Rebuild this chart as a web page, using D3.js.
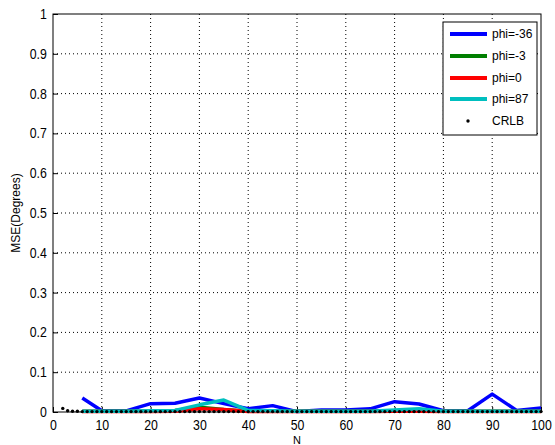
<!DOCTYPE html>
<html><head><meta charset="utf-8">
<script src="https://cdn.jsdelivr.net/npm/d3@7"></script>
<style>body{margin:0;background:#fff}svg{display:block}text{font-family:"Liberation Sans",Arial,sans-serif}</style>
</head><body><svg id="c" width="555" height="445"></svg>
<script>
const seriesN = [6,10,15,20,25,30,35,40,45,50,55,60,65,70,75,80,85,90,95,100];
const phiM36 = [0.035,0.003,0.003,0.021,0.022,0.035,0.021,0.008,0.016,0.001,0.005,0.005,0.008,0.026,0.02,0.003,0.003,0.045,0.004,0.01];
const phiM3  = [0.002,0.002,0.002,0.002,0.004,0.012,0.006,0.002,0.002,0.002,0.002,0.002,0.002,0.003,0.004,0.002,0.002,0.002,0.002,0.002];
const phi0   = [0.001,0.001,0.001,0.001,0.002,0.008,0.006,0.001,0.001,0.001,0.001,0.001,0.001,0.002,0.002,0.001,0.001,0.001,0.001,0.001];
const phi87  = [0.002,0.002,0.002,0.003,0.004,0.018,0.03,0.004,0.003,0.002,0.002,0.002,0.002,0.005,0.008,0.002,0.002,0.002,0.002,0.002];
const crlbN = [2,3,4,5,6,7,8,9,10,11,12,13,14,15,16,17,18,19,20,21,22,23,24,25,26,27,28,29,30,31,32,33,34,35,36,37,38,39,40,41,42,43,44,45,46,47,48,49,50,51,52,53,54,55,56,57,58,59,60,61,62,63,64,65,66,67,68,69,70,71,72,73,74,75,76,77,78,79,80,81,82,83,84,85,86,87,88,89,90,91,92,93,94,95,96,97,98,99,100];
const crlbVal = [0.009,0.003,0.002,0.002,0.001,0.001,0.001,0.001,0.001,0.001,0.001,0.001,0.001,0.001,0.001,0.001,0.001,0.001,0.001,0.001,0.001,0.001,0.001,0.001,0.001,0.001,0.001,0.001,0.001,0.001,0.001,0.001,0.001,0.001,0.001,0.001,0.001,0.001,0.001,0.001,0.001,0.001,0.001,0.001,0.001,0.001,0.001,0.001,0.001,0.001,0.001,0.001,0.001,0.001,0.001,0.001,0.001,0.001,0.001,0.001,0.001,0.001,0.001,0.001,0.001,0.001,0.001,0.001,0.001,0.001,0.001,0.001,0.001,0.001,0.001,0.001,0.001,0.001,0.001,0.001,0.001,0.001,0.001,0.001,0.001,0.001,0.001,0.001,0.001,0.001,0.001,0.001,0.001,0.001,0.001,0.001,0.001,0.001,0.001];
const xTicks = [0,10,20,30,40,50,60,70,80,90,100];
const yTicks = [0,0.1,0.2,0.3,0.4,0.5,0.6,0.7,0.8,0.9,1];
const seriesNames = ["phi=-36","phi=-3","phi=0","phi=87"];
const seriesColors = ["#0000ff","#007f00","#ff0000","#00bfbf"];
const seriesData = [phiM36, phiM3, phi0, phi87];

const L=53, R=541, T=14, B=412;
const svg = d3.select("#c");
const x = d3.scaleLinear().domain([0,100]).range([L,R]);
const y = d3.scaleLinear().domain([0,1]).range([B,T]);

// grid
const g = svg.append("g");
g.selectAll(".gx").data(xTicks.slice(1,-1)).enter().append("line")
 .attr("x1",d=>x(d)).attr("x2",d=>x(d)).attr("y1",T).attr("y2",B)
 .attr("stroke","#000").attr("stroke-dasharray","1,3").attr("stroke-width",1);
g.selectAll(".gy").data(yTicks.slice(1,-1)).enter().append("line")
 .attr("y1",d=>y(d)).attr("y2",d=>y(d)).attr("x1",L).attr("x2",R)
 .attr("stroke","#000").attr("stroke-dasharray","1,3").attr("stroke-width",1);

// axes
const xa = svg.append("g").attr("transform",`translate(0,${B})`)
 .call(d3.axisBottom(x).tickValues(xTicks).tickFormat(d3.format("d")).tickSizeInner(-5).tickSizeOuter(0).tickPadding(8));
const ya = svg.append("g").attr("transform",`translate(${L},0)`)
 .call(d3.axisLeft(y).tickValues(yTicks).tickFormat(d=>d===0?"0":d===1?"1":d3.format(".1f")(d)).tickSizeInner(-5).tickSizeOuter(0).tickPadding(7));
[xa,ya].forEach(a=>{a.select(".domain").remove();a.selectAll("line").attr("stroke","#000");
 a.selectAll("text").attr("font-size","14px").attr("fill","#000").attr("transform","scale(0.88,1)")
  .attr("font-family","Liberation Sans, Arial, sans-serif");});

// box
svg.append("rect").attr("x",L).attr("y",T).attr("width",R-L).attr("height",B-T)
 .attr("fill","none").attr("stroke","#000").attr("stroke-width",1);

// lines
const line = d3.line().x((d,i)=>x(seriesN[i])).y(d=>y(d));
seriesData.forEach((s,k)=>{
  svg.append("path").datum(s).attr("d",line).attr("fill","none")
   .attr("stroke",seriesColors[k]).attr("stroke-width",3.5).attr("stroke-linejoin","round");
});
// CRLB markers
svg.append("g").selectAll("circle").data(crlbVal).enter().append("circle")
 .attr("cx",(d,i)=>x(crlbN[i])).attr("cy",d=>y(d)).attr("r",1.7).attr("fill","#000");

// labels
svg.append("text").attr("x",(L+R)/2).attr("y",444).attr("text-anchor","middle").attr("font-size","11px").text("N");
svg.append("text").attr("transform",`translate(20,${(T+B)/2}) rotate(-90)`).attr("text-anchor","middle").attr("font-size","12px").text("MSE(Degrees)");

// legend
const lg = svg.append("g");
lg.append("rect").attr("x",443).attr("y",22).attr("width",94).attr("height",113).attr("fill","#fff").attr("stroke","#000").attr("stroke-width",1);
const rows = [34,56,78,99,121];
seriesNames.forEach((n,k)=>{
  lg.append("line").attr("x1",450).attr("x2",487).attr("y1",rows[k]).attr("y2",rows[k]).attr("stroke",seriesColors[k]).attr("stroke-width",4);
  lg.append("text").attr("x",492).attr("y",rows[k]+4).attr("font-size","12px").text(n);
});
lg.append("circle").attr("cx",468).attr("cy",rows[4]).attr("r",1.7).attr("fill","#000");
lg.append("text").attr("x",492).attr("y",rows[4]+4).attr("font-size","12px").text("CRLB");
</script></body></html>
